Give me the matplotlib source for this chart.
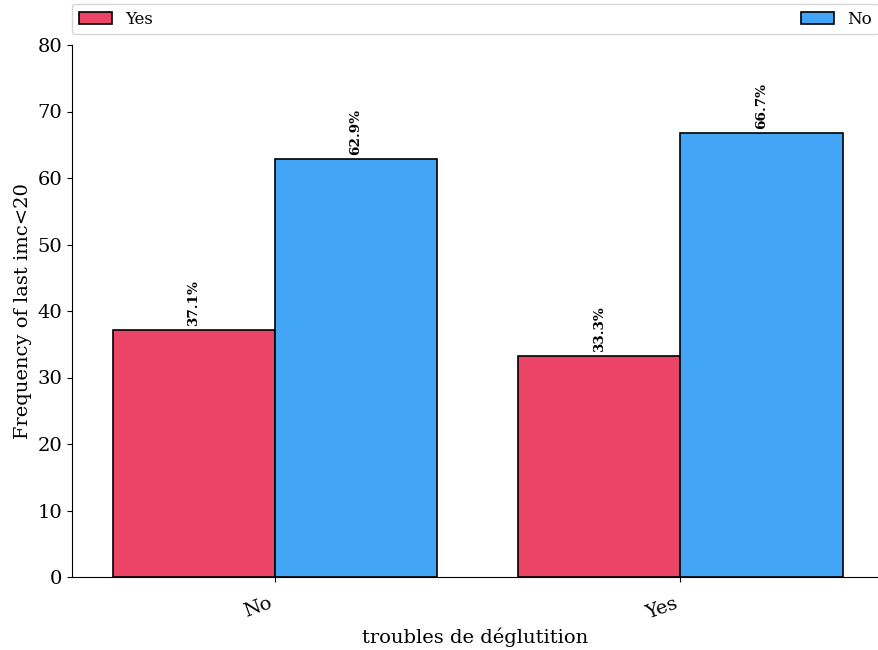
import numpy as np
import matplotlib.pyplot as plt

plt.rcParams["font.family"] = "DejaVu Serif"

categories = ["No", "Yes"]
series_names = ["Yes", "No"]
yes_values = [37.1, 33.3]
no_values = [62.9, 66.7]

COLORS = {"Yes": "#EC4466", "No": "#42A5F5"}

fig = plt.figure(figsize=(8.79, 6.5), dpi=100)
ax = fig.add_axes([72 / 879, 73 / 650, 1 - 72 / 879, 532 / 650])

x = np.arange(len(categories))
width = 0.4
bars_yes = ax.bar(x - width / 2, yes_values, width, color=COLORS["Yes"],
                  edgecolor="black", linewidth=1.2, label=series_names[0])
bars_no = ax.bar(x + width / 2, no_values, width, color=COLORS["No"],
                 edgecolor="black", linewidth=1.2, label=series_names[1])

for bars in (bars_yes, bars_no):
    for b in bars:
        h = b.get_height()
        ax.text(b.get_x() + b.get_width() / 2, h + 0.6, f"{h:.1f}%",
                ha="center", va="bottom", rotation=90, fontsize=9.7,
                fontweight="bold")

ax.set_xlim(-0.5, 1.49)
ax.set_ylim(0, 80)
ax.set_xticks(x)
ax.set_xticklabels(categories, rotation=20, ha="right", fontsize=14)
ax.tick_params(axis="x", pad=9)
ax.tick_params(axis="y", labelsize=14)
ax.set_xlabel("troubles de déglutition", fontsize=14)
ax.set_ylabel("Frequency of last imc<20", fontsize=14)
ax.spines["top"].set_visible(False)
ax.spines["right"].set_visible(False)

ax.legend(bbox_to_anchor=(0, 1.02, 1, 0.102), loc="lower left", ncol=2,
          mode="expand", borderaxespad=0, fontsize=12)

fig.savefig("out.png", dpi=100)
